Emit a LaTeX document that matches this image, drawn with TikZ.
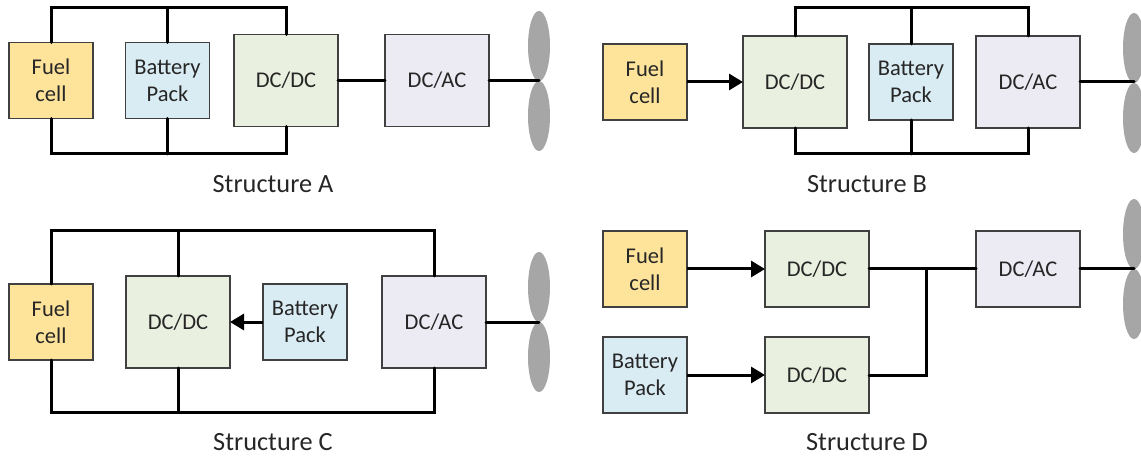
\documentclass[tikz,border=0pt]{standalone}
\usepackage{fontspec}
\setmainfont{Carlito}
\usetikzlibrary{arrows.meta,shapes.geometric}
\definecolor{fuelc}{HTML}{FEE39B}
\definecolor{battc}{HTML}{DAECF3}
\definecolor{dcdcc}{HTML}{EAF0DF}
\definecolor{dcacc}{HTML}{ECEAF2}
\definecolor{edgec}{HTML}{404040}
\definecolor{textc}{HTML}{262626}
\definecolor{bladec}{HTML}{A6A6A6}
\tikzset{
  block/.style={draw=edgec,line width=1.1pt,inner sep=0pt,outer sep=0pt,align=center,text=textc,font=\fontsize{22.5}{27}\selectfont},
  small/.style={block,minimum width=84pt,minimum height=76pt},
  large/.style={block,minimum width=104pt,minimum height=92pt},
  wide/.style={block,minimum width=104pt,minimum height=76pt},
  fuel/.style={small,fill=fuelc},
  batt/.style={small,fill=battc},
  conv/.style={large,fill=dcdcc},
  inv/.style={large,fill=dcacc},
  convw/.style={wide,fill=dcdcc},
  invw/.style={wide,fill=dcacc},
  blade/.style={ellipse,fill=bladec,inner sep=0pt,outer sep=0pt,minimum width=22pt,minimum height=70pt},
  wire/.style={line width=3pt,black,line cap=round,line join=miter},
  flow/.style={line width=3pt,black,-{Triangle[length=14pt,width=16pt]}},
  caption/.style={text=textc,font=\fontsize{26.3}{30}\selectfont,inner sep=0pt}
}
\begin{document}
\begin{tikzpicture}[x=1pt,y=-1pt]
\useasboundingbox (0,0) rectangle (1141,457);
% Structure A
\node[fuel] (af) at (51,80.5) {Fuel\\cell};
\node[batt] (ab) at (167.5,80.5) {Battery\\Pack};
\node[conv] (ad) at (286,80.5) {DC/DC};
\node[inv] (ai) at (437,80.5) {DC/AC};
\node[blade] (ap1) at (539,46) {};
\node[blade] (ap2) at (539,116) {};
\coordinate (ah) at (539,80.5);
\coordinate (atl) at (51,8);
\coordinate (atm) at (167.5,8);
\coordinate (atr) at (286,8);
\coordinate (abl) at (51,154);
\coordinate (abm) at (167.5,154);
\coordinate (abr) at (286,154);
\draw[wire] (af.north) -- (atl) -- (atr) -- (ad.north);
\draw[wire] (ab.north) -- (atm);
\draw[wire] (af.south) -- (abl) -- (abr) -- (ad.south);
\draw[wire] (ab.south) -- (abm);
\draw[wire] (ad.east) -- (ai.west);
\draw[wire] (ai.east) -- (ah);
\node[caption] (ac) at (273,184) {Structure A};
% Structure B
\node[fuel] (bf) at (645,82) {Fuel\\cell};
\node[conv] (bd) at (795,82) {DC/DC};
\node[batt] (bb) at (911,82) {Battery\\Pack};
\node[inv] (bi) at (1028,82) {DC/AC};
\node[blade] (bp1) at (1134,48) {};
\node[blade] (bp2) at (1134,118) {};
\coordinate (bh) at (1134,82);
\coordinate (btl) at (795,8);
\coordinate (btm) at (911,8);
\coordinate (btr) at (1028,8);
\coordinate (bbl) at (795,154);
\coordinate (bbm) at (911,154);
\coordinate (bbr) at (1028,154);
\draw[flow] (bf.east) -- (bd.west);
\draw[wire] (bd.north) -- (btl) -- (btr) -- (bi.north);
\draw[wire] (bb.north) -- (btm);
\draw[wire] (bd.south) -- (bbl) -- (bbr) -- (bi.south);
\draw[wire] (bb.south) -- (bbm);
\draw[wire] (bi.east) -- (bh);
\node[caption] (bc) at (867,184) {Structure B};
% Structure C
\node[fuel] (cf) at (51,322) {Fuel\\cell};
\node[conv] (cd) at (178,322) {DC/DC};
\node[batt] (cb) at (305,322) {Battery\\Pack};
\node[inv] (ci) at (434,322) {DC/AC};
\node[blade] (cp1) at (539,287) {};
\node[blade] (cp2) at (539,357) {};
\coordinate (ch) at (539,322);
\coordinate (ctl) at (51,231);
\coordinate (ctm) at (178,231);
\coordinate (ctr) at (434,231);
\coordinate (cbl) at (51,412);
\coordinate (cbm) at (178,412);
\coordinate (cbr) at (434,412);
\draw[wire] (cf.north) -- (ctl) -- (ctr) -- (ci.north);
\draw[wire] (cd.north) -- (ctm);
\draw[wire] (cf.south) -- (cbl) -- (cbr) -- (ci.south);
\draw[wire] (cd.south) -- (cbm);
\draw[flow] (cb.west) -- (cd.east);
\draw[wire] (ci.east) -- (ch);
\node[caption] (cc) at (273,442) {Structure C};
% Structure D
\node[fuel] (df) at (645,269) {Fuel\\cell};
\node[convw] (dd1) at (817,269) {DC/DC};
\node[invw] (di) at (1028,269) {DC/AC};
\node[batt] (db) at (645,375) {Battery\\Pack};
\node[convw] (dd2) at (817,375) {DC/DC};
\node[blade] (dp1) at (1134,234) {};
\node[blade] (dp2) at (1134,304) {};
\coordinate (dh) at (1134,269);
\coordinate (dj) at (926,269);
\coordinate (dk) at (926,375);
\draw[flow] (df.east) -- (dd1.west);
\draw[flow] (db.east) -- (dd2.west);
\draw[wire] (dd1.east) -- (di.west);
\draw[wire] (dd2.east) -- (dk) -- (dj);
\draw[wire] (di.east) -- (dh);
\node[caption] (dc) at (867,442) {Structure D};
\end{tikzpicture}
\end{document}
